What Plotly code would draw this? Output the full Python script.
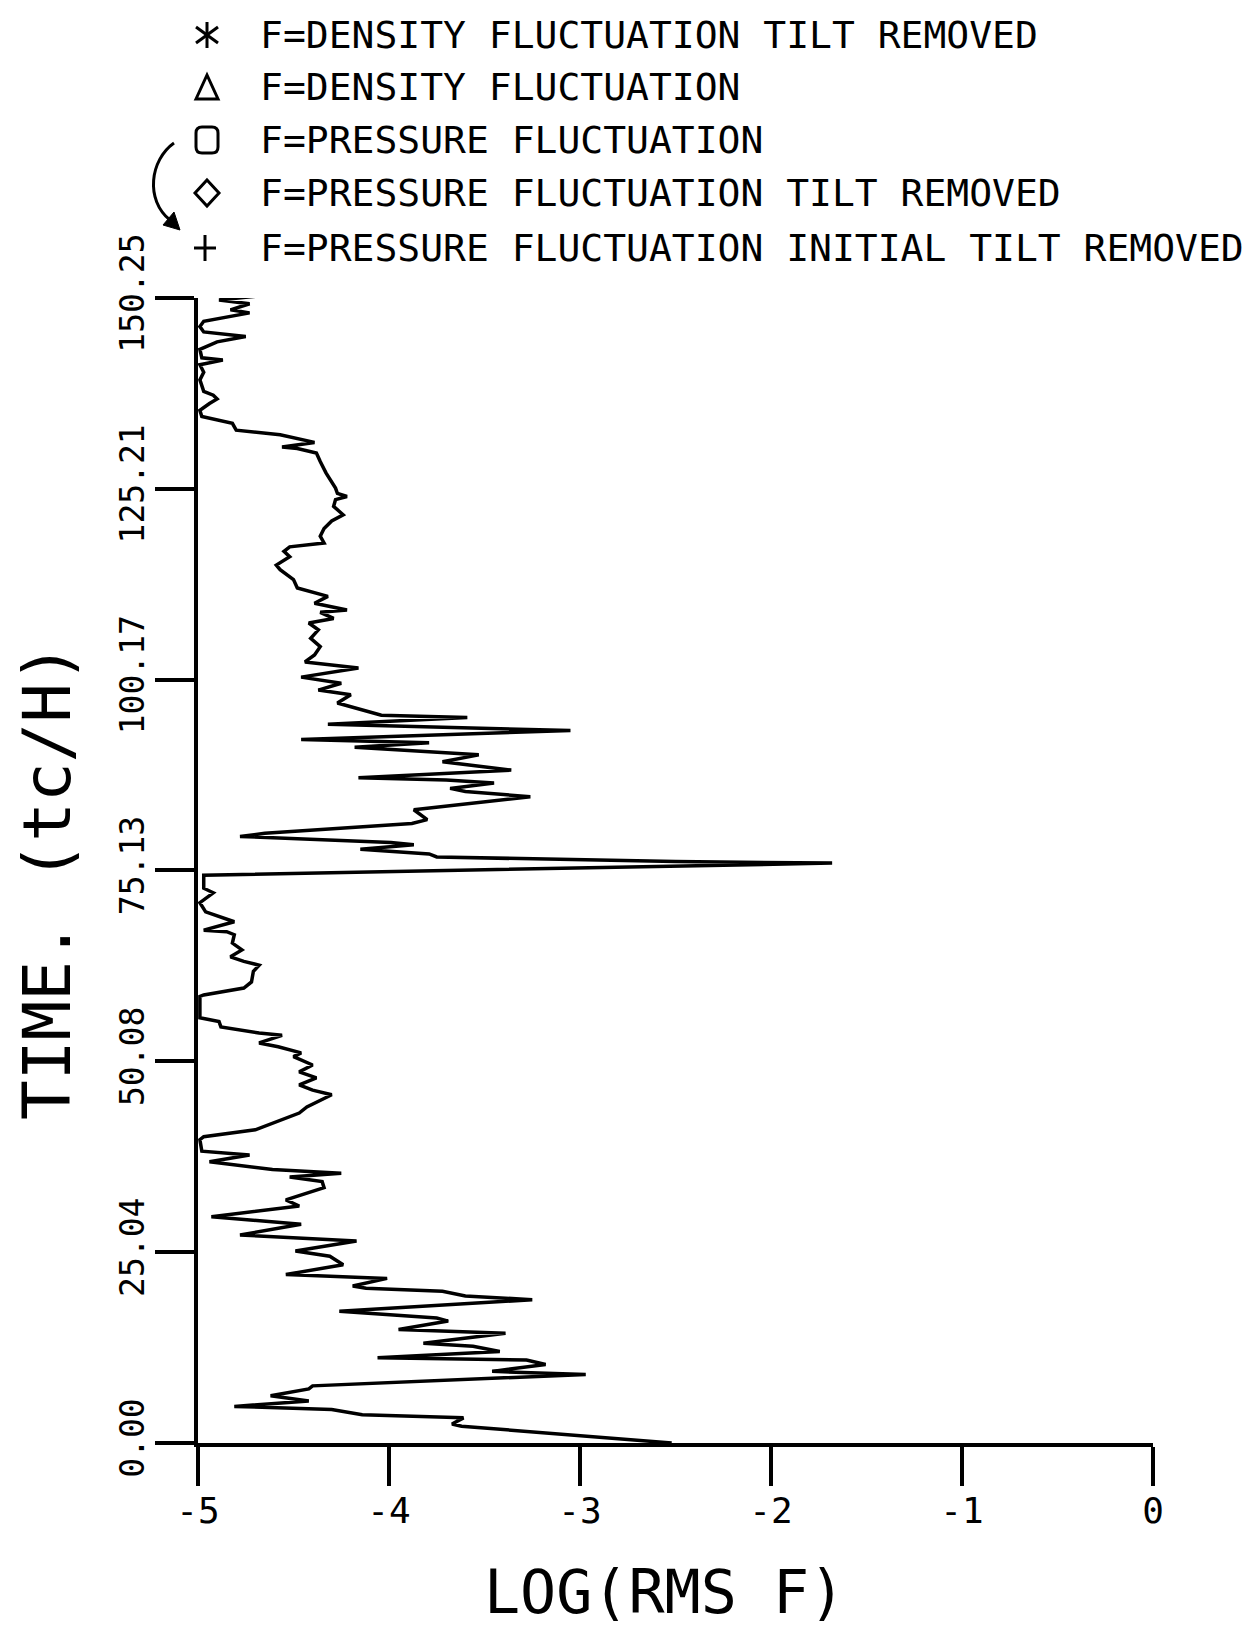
import plotly.graph_objects as go

# ---------------- data ----------------
time_tc_h = [
    0.0, 2.2, 2.5, 3.3, 3.7, 4.4, 4.8, 5.5, 6.2, 7.1, 7.5, 9.0, 9.4, 10.3, 10.9, 11.2,
    12.0, 12.7, 13.1, 14.4, 14.9, 16.0, 16.4, 17.3, 18.8, 19.3, 19.9, 20.3, 20.6, 21.6,
    22.1, 23.4, 24.5, 25.2, 26.5, 27.3, 28.7, 29.7, 31.1, 31.9, 33.5, 34.3, 34.9, 35.4,
    35.9, 36.9, 37.8, 38.3, 39.8, 40.2, 41.1, 43.3, 44.1, 45.7, 46.3, 47.0, 47.9, 48.7,
    49.6, 50.7, 51.2, 52.0, 52.5, 53.5, 53.8, 54.6, 55.3, 55.8, 58.6, 58.8, 59.7, 60.5,
    61.9, 62.7, 63.2, 63.8, 64.7, 65.6, 66.7, 67.1, 67.3, 68.4, 69.7, 70.9, 72.2, 72.8,
    74.5, 76.1, 76.3, 76.9, 77.3, 77.9, 78.5, 78.8, 79.6, 80.0, 81.3, 81.8, 83.1, 84.8,
    85.5, 85.9, 86.6, 87.0, 87.3, 88.3, 89.4, 90.3, 91.3, 91.9, 92.3, 93.5, 94.3, 95.2,
    95.5, 97.1, 98.2, 98.8, 99.7, 100.5, 101.7, 102.5, 103.4, 104.5, 105.6, 106.7, 107.6,
    108.2, 109.0, 109.3, 110.2, 111.1, 112.2, 113.3, 114.6, 115.2, 116.3, 117.0, 117.6,
    118.1, 119.0, 120.0, 121.0, 121.8, 122.9, 123.8, 124.2, 124.6, 125.3, 126.4, 127.3,
    128.8, 129.9, 130.5, 130.7, 131.3, 132.3, 132.9, 133.8, 134.7, 135.5, 136.4, 137.0,
    137.5, 138.0, 139.5, 140.5, 141.5, 142.1, 142.4, 143.5, 144.5, 145.2, 145.8, 146.5,
    147.2, 148.3, 148.7, 149.5, 150.0, 150.5, 151.0, 151.7,
]
log_rms_f = [
    -2.52, -3.62, -3.67, -3.61, -4.14, -4.30, -4.81, -4.42, -4.62, -4.42, -4.40, -2.97, -3.46, -3.18, -3.28, -4.06,
    -3.42, -3.56, -3.82, -3.39, -3.95, -3.69, -3.75, -4.26, -3.25, -3.60, -3.72, -4.12, -4.19, -4.01,
    -4.54, -4.24, -4.31, -4.49, -4.17, -4.78, -4.46, -4.93, -4.47, -4.54, -4.34, -4.35, -4.52, -4.25,
    -4.61, -4.94, -4.73, -4.98, -4.99, -4.97, -4.70, -4.47, -4.43, -4.30, -4.40, -4.47, -4.38, -4.47,
    -4.40, -4.50, -4.46, -4.58, -4.68, -4.56, -4.68, -4.88, -4.89, -4.99, -4.99, -4.97, -4.76, -4.72,
    -4.71, -4.68, -4.76, -4.83, -4.77, -4.82, -4.81, -4.85, -4.97, -4.81, -4.96, -4.99, -4.92, -4.97,
    -4.97, -1.68, -2.50, -3.75, -3.79, -4.15, -3.87, -3.99, -4.78, -4.65, -3.88, -3.80, -3.87, -3.26,
    -3.60, -3.68, -3.45, -3.70, -4.16, -3.36, -3.72, -3.53, -4.18, -3.79, -4.46, -3.05, -4.32, -3.59,
    -4.04, -4.27, -4.20, -4.37, -4.25, -4.46, -4.16, -4.44, -4.39, -4.36, -4.41, -4.37, -4.42,
    -4.29, -4.36, -4.22, -4.39, -4.32, -4.48, -4.50, -4.57, -4.59, -4.52, -4.55, -4.52,
    -4.34, -4.36, -4.34, -4.30, -4.24, -4.29, -4.28, -4.22, -4.27, -4.28, -4.31, -4.33,
    -4.36, -4.38, -4.48, -4.56, -4.39, -4.57, -4.80, -4.82, -4.98, -4.99, -4.94, -4.90,
    -4.92, -4.97, -4.99, -4.97, -4.99, -4.87, -4.98, -4.99, -4.90, -4.75, -4.97, -4.99,
    -4.97, -4.73, -4.83, -4.73, -4.89, -4.69, -4.76, -4.74,
]

x_tick_vals = [-5, -4, -3, -2, -1, 0]
x_tick_text = ["-5", "-4", "-3", "-2", "-1", "0"]
y_tick_vals = [0.0, 25.04, 50.08, 75.13, 100.17, 125.21, 150.25]
y_tick_text = ["0.00", "25.04", "50.08", "75.13", "100.17", "125.21", "150.25"]

x_title = "LOG(RMS F)"
y_title = "TIME. (tc/H)"

legend_labels = [
    "F=DENSITY FLUCTUATION TILT REMOVED",
    "F=DENSITY FLUCTUATION",
    "F=PRESSURE FLUCTUATION",
    "F=PRESSURE FLUCTUATION TILT REMOVED",
    "F=PRESSURE FLUCTUATION INITIAL TILT REMOVED",
]
legend_symbols = ["asterisk", "triangle", "circle", "diamond", "plus"]

# ---------------- layout geometry (page pixels) ----------------
PAGE_W, PAGE_H = 1252, 1631
BODY = 8                      # default page margin around the plot div
L, T, W, H = 198, 298, 955, 1145
FONT = "DejaVu Sans Mono"
INK = "black"


def paper_x(p):
    return (p - L) / W


def paper_y(p):
    return (T + H - p) / H


fig = go.Figure()
fig.add_trace(go.Scatter(
    x=log_rms_f, y=time_tc_h, mode="lines",
    line=dict(color=INK, width=3.5), cliponaxis=False, showlegend=False,
    hoverinfo="skip",
))

shapes = []
annotations = []

# key at the top
legend_rows = [35, 87, 140, 193, 248]
sym_x = 207
lw = dict(color=INK, width=3)
for label, sym, yc in zip(legend_labels, legend_symbols, legend_rows):
    annotations.append(dict(
        x=paper_x(258), y=paper_y(yc), xref="paper", yref="paper",
        text=label, showarrow=False, xanchor="left", yanchor="middle",
        font=dict(family=FONT, size=38, color=INK),
    ))
    if sym == "asterisk":
        for (x0, y0, x1, y1) in [(0, -13, 0, 13), (-11, -8, 11, 8), (-11, 8, 11, -8)]:
            shapes.append(dict(type="line", xref="paper", yref="paper",
                               x0=paper_x(sym_x + x0), y0=paper_y(yc + y0),
                               x1=paper_x(sym_x + x1), y1=paper_y(yc + y1), line=lw))
    elif sym == "triangle":
        pts = [(-11, 12), (0, -12), (11, 12)]
        path = "M " + " L ".join(f"{paper_x(sym_x + a)},{paper_y(yc + b)}" for a, b in pts) + " Z"
        shapes.append(dict(type="path", xref="paper", yref="paper", path=path, line=lw))
    elif sym == "circle":
        # plotter "O": rounded square
        r = 6
        x0, x1 = sym_x - 11, sym_x + 11
        y0, y1 = yc - 13, yc + 13
        path = (f"M {paper_x(x0 + r)},{paper_y(y0)} L {paper_x(x1 - r)},{paper_y(y0)} "
                f"Q {paper_x(x1)},{paper_y(y0)} {paper_x(x1)},{paper_y(y0 + r)} "
                f"L {paper_x(x1)},{paper_y(y1 - r)} "
                f"Q {paper_x(x1)},{paper_y(y1)} {paper_x(x1 - r)},{paper_y(y1)} "
                f"L {paper_x(x0 + r)},{paper_y(y1)} "
                f"Q {paper_x(x0)},{paper_y(y1)} {paper_x(x0)},{paper_y(y1 - r)} "
                f"L {paper_x(x0)},{paper_y(y0 + r)} "
                f"Q {paper_x(x0)},{paper_y(y0)} {paper_x(x0 + r)},{paper_y(y0)} Z")
        shapes.append(dict(type="path", xref="paper", yref="paper", path=path, line=lw))
    elif sym == "diamond":
        pts = [(0, -13), (12, 0), (0, 13), (-12, 0)]
        path = "M " + " L ".join(f"{paper_x(sym_x + a)},{paper_y(yc + b)}" for a, b in pts) + " Z"
        shapes.append(dict(type="path", xref="paper", yref="paper", path=path, line=lw))
    elif sym == "plus":
        for (x0, y0, x1, y1) in [(-2, -13, -2, 13), (-13, 0, 9, 0)]:
            shapes.append(dict(type="line", xref="paper", yref="paper",
                               x0=paper_x(sym_x + x0), y0=paper_y(yc + y0),
                               x1=paper_x(sym_x + x1), y1=paper_y(yc + y1), line=lw))

# curved arrow linking the circle row to the plus row
arrow = (f"M {paper_x(174)},{paper_y(143)} C {paper_x(150)},{paper_y(160)} "
         f"{paper_x(145)},{paper_y(200)} {paper_x(170)},{paper_y(220)}")
shapes.append(dict(type="path", xref="paper", yref="paper", path=arrow,
                   line=dict(color=INK, width=3)))
head = (f"M {paper_x(180)},{paper_y(230)} L {paper_x(163)},{paper_y(225)} "
        f"L {paper_x(174)},{paper_y(212)} Z")
shapes.append(dict(type="path", xref="paper", yref="paper", path=head,
                   fillcolor=INK, line=dict(color=INK, width=1)))

# axis titles
annotations.append(dict(
    x=paper_x(664), y=paper_y(1592), xref="paper", yref="paper", text=x_title,
    showarrow=False, xanchor="center", yanchor="middle",
    font=dict(family=FONT, size=60, color=INK),
))
annotations.append(dict(
    x=paper_x(47), y=paper_y(882), xref="paper", yref="paper", text=y_title,
    showarrow=False, xanchor="center", yanchor="middle", textangle=-90,
    font=dict(family=FONT, size=66, color=INK),
))

fig.update_layout(
    width=PAGE_W - BODY, height=PAGE_H - BODY, autosize=False,
    margin=dict(l=L - BODY, r=PAGE_W - L - W, t=T - BODY, b=PAGE_H - T - H, pad=0),
    paper_bgcolor="white", plot_bgcolor="white",
    showlegend=False, shapes=shapes, annotations=annotations,
    xaxis=dict(
        range=[-5, 0], showgrid=False, zeroline=False, showline=True,
        linecolor=INK, linewidth=4, ticks="outside", ticklen=39, tickwidth=3.5,
        tickcolor=INK, tickvals=x_tick_vals, ticktext=x_tick_text,
        tickfont=dict(family=FONT, size=36, color=INK), ticklabelstandoff=-6,
    ),
    yaxis=dict(
        range=[0, 150.25], showgrid=False, zeroline=False, showline=True,
        linecolor=INK, linewidth=4, ticks="outside", ticklen=39, tickwidth=3.5,
        tickcolor=INK, tickvals=y_tick_vals, ticktext=y_tick_text, tickangle=-90,
        tickfont=dict(family=FONT, size=33, color=INK), ticklabelstandoff=-2,
    ),
)

fig.write_html("out.html")
